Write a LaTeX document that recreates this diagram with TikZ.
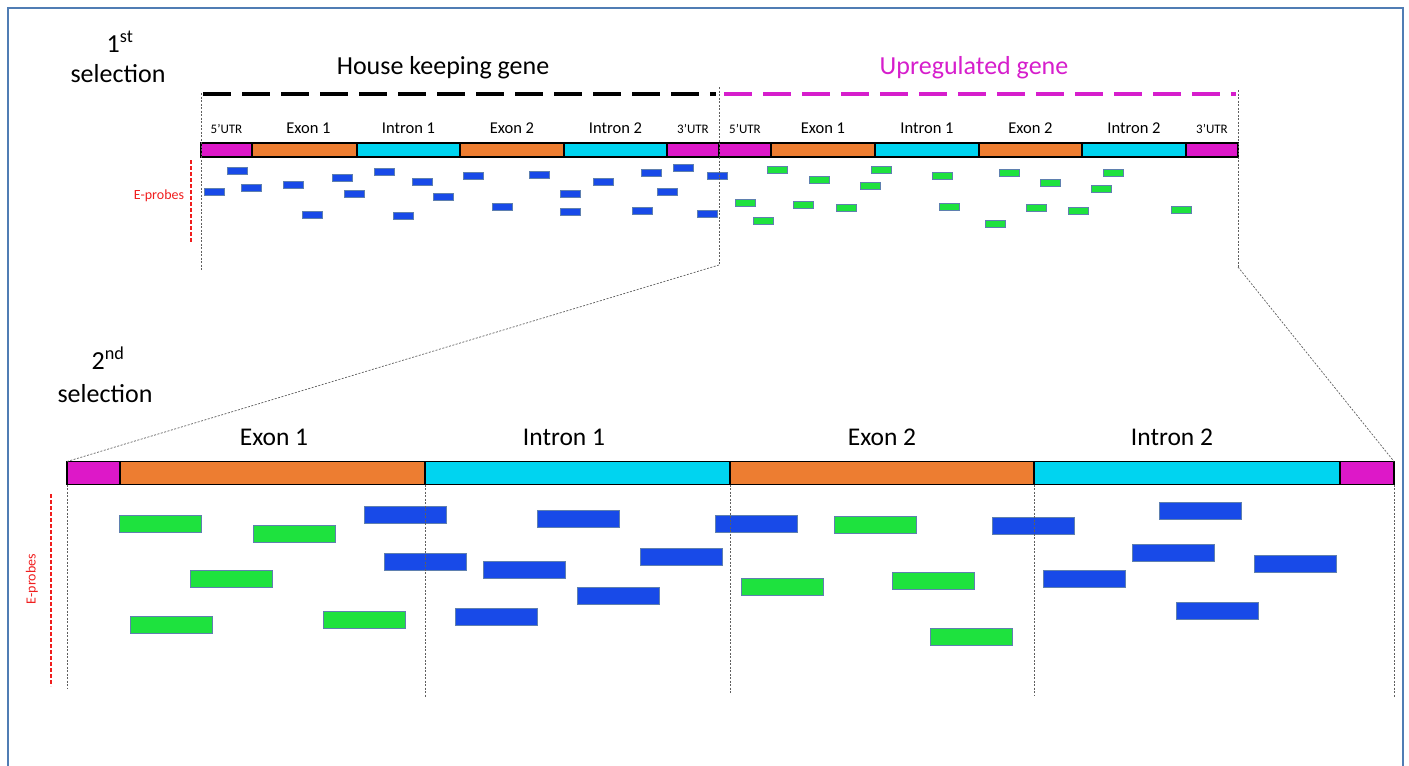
\documentclass[tikz,border=0pt]{standalone}
\usepackage{fontspec}
\setmainfont{Carlito}
\definecolor{utr}{RGB}{221,24,200}
\definecolor{exon}{RGB}{237,125,49}
\definecolor{intron}{RGB}{0,212,240}
\definecolor{probeblue}{RGB}{24,74,232}
\definecolor{probegreen}{RGB}{30,226,62}
\definecolor{probeedge}{RGB}{95,128,175}
\definecolor{framecol}{RGB}{80,125,180}
\definecolor{upcol}{RGB}{214,30,204}
\definecolor{guide}{RGB}{95,95,95}
\definecolor{eprobe}{RGB}{240,30,30}

\begin{document}
\begin{tikzpicture}[x=1pt,y=-1pt,
  seg/.style={draw=black,line width=1.3pt,inner sep=0pt,outer sep=0pt,anchor=west},
  segS/.style={seg,minimum height=14pt},
  segL/.style={seg,minimum height=23pt},
  utrseg/.style={fill=utr},
  exonseg/.style={fill=exon},
  intronseg/.style={fill=intron},
  lblS/.style={anchor=base,font=\fontsize{16.5}{19}\selectfont,inner sep=0pt},
  lblU/.style={anchor=base,font=\fontsize{13}{15}\selectfont,inner sep=0pt},
  lblL/.style={anchor=base,font=\fontsize{25.5}{30}\selectfont,inner sep=0pt},
  title/.style={anchor=base,font=\fontsize{26}{30}\selectfont,inner sep=0pt},
  probe/.style={draw=probeedge,line width=0.9pt,inner sep=0pt,outer sep=0pt},
  probeS/.style={probe,minimum width=20pt,minimum height=7pt},
  probeL/.style={probe,minimum width=82pt,minimum height=17pt},
  guideline/.style={draw=guide,line width=0.7pt,dash pattern=on 2pt off 1.5pt},
  eline/.style={draw=eprobe,line width=2pt,dash pattern=on 4pt off 2pt},
  elabel/.style={text=eprobe,font=\fontsize{14}{16}\selectfont,inner sep=0pt},
  genedash/.style={line width=4pt,dash pattern=on 28pt off 11pt}
]
% page and frame
\useasboundingbox (0,0) rectangle (1409,766);
\draw[framecol,line width=1.4pt] (8,770) -- (8,8) -- (1403,8) -- (1403,770);

% headings
\node[title] (sel1a) at (120,52) {1\textsuperscript{st}};
\node[title] (sel1b) at (118,82) {selection};
\node[title] (hkgene) at (443,74) {House keeping gene};
\node[title,text=upcol] (upgene) at (974,74) {Upregulated gene};
\node[title] (sel2a) at (108,369) {2\textsuperscript{nd}};
\node[title] (sel2b) at (105,402) {selection};

% gene extents
\coordinate (hkL) at (203,94);
\coordinate (hkR) at (716,94);
\coordinate (upL) at (724,94);
\coordinate (upR) at (1236,94);
\draw[genedash,black] (hkL) -- (hkR);
\draw[genedash,upcol] (upL) -- (upR);

% first-selection gene bar
\node[segS,utrseg,minimum width=51pt]    (h1) at (201,150) {};
\node[segS,exonseg,minimum width=105pt]  (h2) at (252,150) {};
\node[segS,intronseg,minimum width=103pt](h3) at (357,150) {};
\node[segS,exonseg,minimum width=104pt]  (h4) at (460,150) {};
\node[segS,intronseg,minimum width=103pt](h5) at (564,150) {};
\node[segS,utrseg,minimum width=52pt]    (h6) at (667,150) {};
\node[segS,utrseg,minimum width=52pt]    (u1) at (719,150) {};
\node[segS,exonseg,minimum width=104pt]  (u2) at (771,150) {};
\node[segS,intronseg,minimum width=104pt](u3) at (875,150) {};
\node[segS,exonseg,minimum width=103pt]  (u4) at (979,150) {};
\node[segS,intronseg,minimum width=104pt](u5) at (1082,150) {};
\node[segS,utrseg,minimum width=52pt]    (u6) at (1186,150) {};

\node[lblU] (th1) at ([yshift=9.5pt]h1.north) {5’UTR};
\node[lblS] (th2) at ([yshift=9.5pt,xshift=4pt]h2.north) {Exon 1};
\node[lblS] (th3) at ([yshift=9.5pt]h3.north) {Intron 1};
\node[lblS] (th4) at ([yshift=9.5pt]h4.north) {Exon 2};
\node[lblS] (th5) at ([yshift=9.5pt]h5.north) {Intron 2};
\node[lblU] (th6) at ([yshift=9.5pt]h6.north) {3’UTR};
\node[lblU] (tu1) at ([yshift=9.5pt]u1.north) {5’UTR};
\node[lblS] (tu2) at ([yshift=9.5pt]u2.north) {Exon 1};
\node[lblS] (tu3) at ([yshift=9.5pt]u3.north) {Intron 1};
\node[lblS] (tu4) at ([yshift=9.5pt]u4.north) {Exon 2};
\node[lblS] (tu5) at ([yshift=9.5pt]u5.north) {Intron 2};
\node[lblU] (tu6) at ([yshift=9.5pt]u6.north) {3’UTR};

% first-selection probes
\foreach \px/\py [count=\i] in {214/192,237/171,251/188,293/185,312/215,342/178,354/194,
  384/172,403/216,422/182,443/197,473/176,502/207,539/175,570/194,570/212,603/182,
  642/211,651/173,667/192,683/168,707/214,717/176}
  \node[probeS,fill=probeblue] (hp\i) at (\px,\py) {};
\foreach \px/\py [count=\i] in {777/170,819/180,881/170,870/186,942/176,745/203,763/221,
  803/205,846/208,949/207,1009/173,1050/183,1101/189,1113/173,1036/208,1078/211,
  995/224,1181/210}
  \node[probeS,fill=probegreen] (up\i) at (\px,\py) {};

\node[elabel] (ep1) at (159,196) {E-probes};
\coordinate (ep1t) at (191,160);
\coordinate (ep1b) at (191,242);
\draw[eline] (ep1t) -- (ep1b);

% zoom guides
\coordinate (gL0) at (201,93);
\coordinate (gL1) at (201,270);
\coordinate (gM0) at (719,87);
\coordinate (gM1) at (719,265);
\coordinate (gR0) at (1238,90);
\coordinate (gR1) at (1238,267);
\draw[guideline] (gL0) -- (gL1);
\draw[guideline] (gM0) -- (gM1);
\draw[guideline] (gR0) -- (gR1);

% second-selection gene bar
\node[segL,utrseg,minimum width=53pt]    (b1) at (67,473) {};
\node[segL,exonseg,minimum width=305pt]  (b2) at (120,473) {};
\node[segL,intronseg,minimum width=305pt](b3) at (425,473) {};
\node[segL,exonseg,minimum width=304pt]  (b4) at (730,473) {};
\node[segL,intronseg,minimum width=306pt](b5) at (1034,473) {};
\node[segL,utrseg,minimum width=54pt]    (b6) at (1340,473) {};

\draw[guideline] (gM1) -- (b1.north west);
\draw[guideline] (gR1) -- (b6.north east);

\node[lblL] (tb2) at (274,445) {Exon 1};
\node[lblL] (tb3) at (564,445) {Intron 1};
\node[lblL] (tb4) at (882,445) {Exon 2};
\node[lblL] (tb5) at (1172,445) {Intron 2};

% second-selection probes
\foreach \px/\py [count=\i] in {160/524,294/534,231/579,171/625,364/620,782/587,
  875/525,933/581,971/637}
  \node[probeL,fill=probegreen] (bg\i) at (\px,\py) {};
\foreach \px/\py [count=\i] in {405/515,425/562,496/617,524/570,578/519,618/596,
  681/557,756/524,1033/526,1084/579,1173/553,1200/511,1217/611,1295/564}
  \node[probeL,fill=probeblue] (bb\i) at (\px,\py) {};

\coordinate (e1) at (67,688);
\coordinate (e2) at (425,698);
\coordinate (e3) at (730,693);
\coordinate (e4) at (1034,695);
\coordinate (e5) at (1394,698);
\draw[guideline] (b1.south west) -- (e1);
\draw[guideline] (b3.south west) -- (e2);
\draw[guideline] (b4.south west) -- (e3);
\draw[guideline] (b5.south west) -- (e4);
\draw[guideline] (b6.south east) -- (e5);

\node[elabel,rotate=90] (ep2) at (32,579) {E-probes};
\coordinate (ep2t) at (51,494);
\coordinate (ep2b) at (51,686);
\draw[eline] (ep2t) -- (ep2b);
\end{tikzpicture}
\end{document}
